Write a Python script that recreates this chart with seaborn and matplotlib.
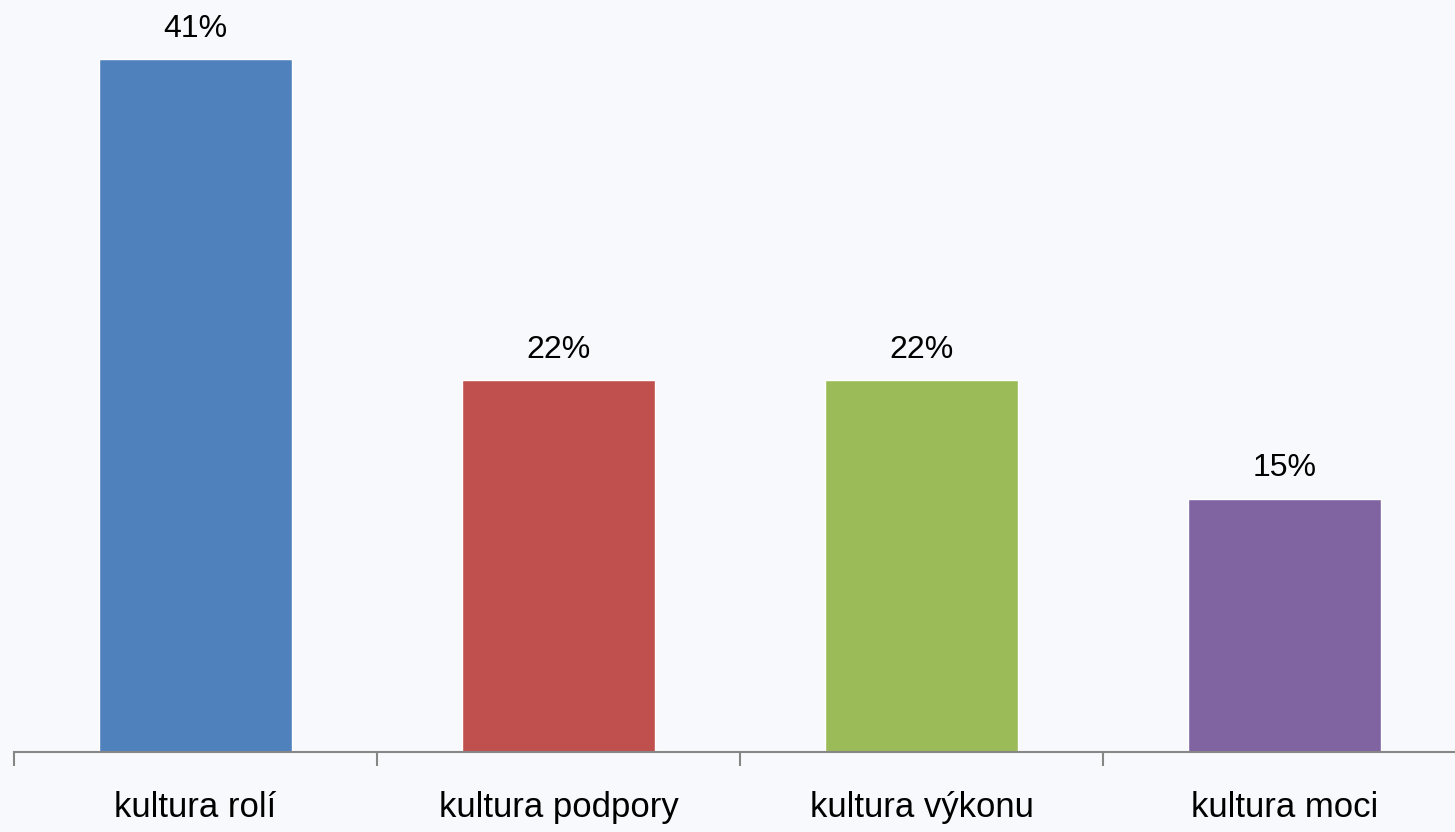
import matplotlib
matplotlib.use("Agg")
import matplotlib.pyplot as plt
import seaborn as sns
import pandas as pd

categories = ["kultura rolí", "kultura podpory", "kultura výkonu", "kultura moci"]
values = [41, 22, 22, 15]
colors = ["#4F81BD", "#C0504D", "#9BBB59", "#8064A2"]

sns.set_theme(style="white")
plt.rcParams["font.family"] = ["Liberation Sans", "DejaVu Sans"]

bg = "#F8F9FC"
W, H = 1455, 832
fig = plt.figure(figsize=(W / 100, H / 100), dpi=100, facecolor=bg)
# plot area: left edge at x=14, baseline at y=752, category width 363 px
ax = fig.add_axes([14 / W, (H - 752) / H, 4 * 363 / W, 752 / H])
ax.set_facecolor(bg)

df = pd.DataFrame({"cat": categories, "val": values})
sns.barplot(data=df, x="cat", y="val", hue="cat", palette=colors,
            width=0.529, saturation=1, legend=False, ax=ax)

ax.set_xlim(-0.5, 3.5)
ax.set_ylim(0, 752 / 16.9)

for i, v in enumerate(values):
    ax.annotate(f"{v}%", (i, v), xytext=(0, 22), textcoords="offset points",
                ha="center", va="center", fontsize=23, color="#000000")

for s in ["top", "right", "left"]:
    ax.spines[s].set_visible(False)
ax.spines["bottom"].set_color("#868686")
ax.spines["bottom"].set_linewidth(1.5)

ax.set_yticks([])
ax.set_xticks(range(len(categories)))
ax.set_xticklabels(categories, fontsize=25, color="#000000")
ax.tick_params(axis="x", which="major", length=0, pad=28)
ax.set_xticks([-0.5, 0.5, 1.5, 2.5, 3.5], minor=True)
ax.tick_params(axis="x", which="minor", length=10, width=1.5, color="#868686",
               direction="out", bottom=True)
ax.set_xlabel("")
ax.set_ylabel("")

fig.savefig("out.png", dpi=100, facecolor=bg)
